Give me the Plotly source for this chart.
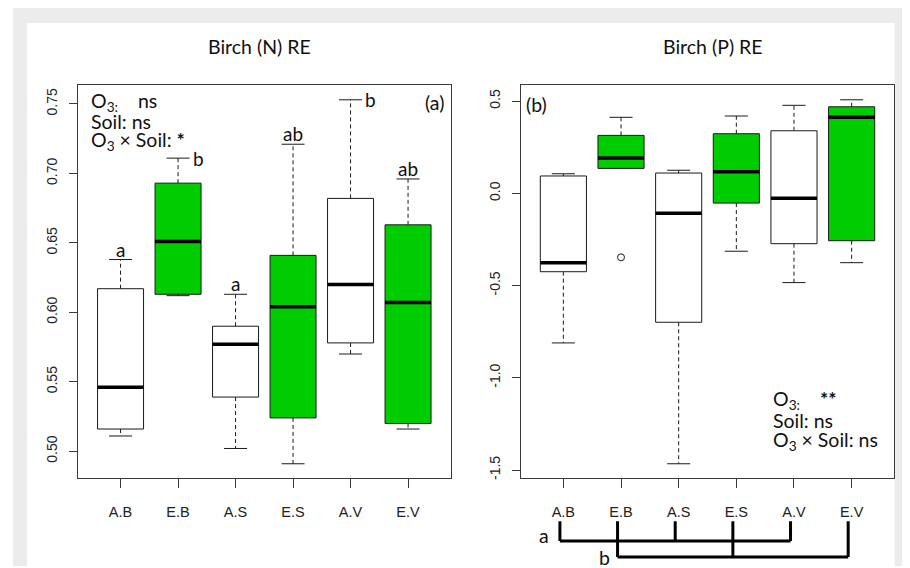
import plotly.graph_objects as go

# ---------------- data ----------------
categories = ["A.B", "E.B", "A.S", "E.S", "A.V", "E.V"]

# Panel (a): Birch (N) RE  (box-plot statistics)
n_lower = [0.511, 0.612, 0.502, 0.491, 0.570, 0.516]
n_q1 = [0.516, 0.613, 0.539, 0.524, 0.578, 0.520]
n_median = [0.546, 0.651, 0.577, 0.604, 0.620, 0.607]
n_q3 = [0.617, 0.693, 0.590, 0.641, 0.682, 0.663]
n_upper = [0.638, 0.711, 0.613, 0.721, 0.753, 0.696]
n_letters = ["a", "b", "a", "ab", "b", "ab"]
n_ticks = [0.50, 0.55, 0.60, 0.65, 0.70, 0.75]

# Panel (b): Birch (P) RE
p_lower = [-0.811, 0.135, -1.466, -0.314, -0.484, -0.376]
p_q1 = [-0.425, 0.135, -0.699, -0.053, -0.273, -0.257]
p_median = [-0.376, 0.191, -0.108, 0.117, -0.027, 0.412]
p_q3 = [0.094, 0.314, 0.110, 0.323, 0.339, 0.469]
p_upper = [0.106, 0.412, 0.125, 0.419, 0.477, 0.507]
p_outlier_cats = ["E.B"]
p_outlier_vals = [-0.347]
p_ticks = [-1.5, -1.0, -0.5, 0.0, 0.5]

group_a = ["A.B", "A.S", "A.V"]
group_b = ["E.B", "E.S", "E.V"]

# ---------------- style ----------------
GREEN = "#00CD00"
LINE = "#1a1a1a"
AXC = "#3a3a3a"
BOXW = 0.4      # half box width (boxwex 0.8)
CAPW = 0.2      # half staple width
TXT_FONT = "Lato"
TICK_FONT = "Liberation Sans"
W, H = 902, 560
OX, OY = 8, 8   # page offset of the figure (body margin)


def fx(px):
    return (px - OX) / W


def fy(py):
    return (H - (py - OY)) / H


fig = go.Figure()


def pos(cat):
    return categories.index(cat) + 1


def add_panel(xa, ya, lower, q1, med, q3, upper):
    for i, cat in enumerate(categories):
        p = pos(cat)
        fill = GREEN if cat.startswith("E") else "white"
        fig.add_trace(go.Scatter(
            x=[p, p, None, p, p], y=[q3[i], upper[i], None, q1[i], lower[i]],
            mode="lines", line=dict(color=LINE, width=1, dash="4px,3px"),
            xaxis=xa, yaxis=ya, hoverinfo="skip", showlegend=False))
        fig.add_trace(go.Scatter(
            x=[p - CAPW, p + CAPW, None, p - CAPW, p + CAPW],
            y=[upper[i], upper[i], None, lower[i], lower[i]],
            mode="lines", line=dict(color=LINE, width=1),
            xaxis=xa, yaxis=ya, hoverinfo="skip", showlegend=False))
        fig.add_trace(go.Scatter(
            x=[p - BOXW, p + BOXW, p + BOXW, p - BOXW, p - BOXW],
            y=[q1[i], q1[i], q3[i], q3[i], q1[i]],
            mode="lines", fill="toself", fillcolor=fill,
            line=dict(color=LINE, width=1),
            xaxis=xa, yaxis=ya, hoverinfo="skip", showlegend=False))
        fig.add_trace(go.Scatter(
            x=[p - BOXW, p + BOXW], y=[med[i], med[i]],
            mode="lines", line=dict(color="black", width=3.5),
            xaxis=xa, yaxis=ya, hoverinfo="skip", showlegend=False))


add_panel("x", "y", n_lower, n_q1, n_median, n_q3, n_upper)
add_panel("x2", "y2", p_lower, p_q1, p_median, p_q3, p_upper)

fig.add_trace(go.Scatter(
    x=[pos(c) for c in p_outlier_cats], y=p_outlier_vals, mode="markers",
    marker=dict(symbol="circle-open", size=7, color=LINE, line=dict(width=1)),
    xaxis="x2", yaxis="y2", hoverinfo="skip", showlegend=False))


def r_range(lo_list, hi_list, extra=()):
    lo = min(list(lo_list) + list(extra))
    hi = max(list(hi_list) + list(extra))
    d = (hi - lo) * 0.04
    return [lo - d, hi + d]


n_range = r_range(n_lower, n_upper)
p_range = r_range(p_lower, p_upper, p_outlier_vals)

ydom = [fy(480), fy(85.5)]
xdom1 = [fx(78), fx(450.6)]
xdom2 = [fx(520.7), fx(894.3)]

xcommon = dict(range=[0.26, 6.74], tickvals=[pos(c) for c in categories],
               ticktext=categories, showgrid=False, zeroline=False,
               showline=True, mirror=True, linecolor=AXC, linewidth=1,
               ticks="outside", ticklen=9, tickcolor=AXC, tickwidth=1,
               ticklabelstandoff=11,
               tickfont=dict(family=TICK_FONT, size=14.5, color="#222"))
ycommon = dict(showgrid=False, zeroline=False, showline=True, mirror=True,
               linecolor=AXC, linewidth=1, ticks="outside", ticklen=8,
               tickcolor=AXC, tickwidth=1, tickangle=-90,
               ticklabelstandoff=6,
               tickfont=dict(family=TICK_FONT, size=14, color="#222"), domain=ydom)

fig.update_layout(
    width=W, height=H, margin=dict(l=0, r=0, t=0, b=0),
    paper_bgcolor="white", plot_bgcolor="rgba(0,0,0,0)",
    xaxis=dict(domain=xdom1, anchor="y", **xcommon),
    xaxis2=dict(domain=xdom2, anchor="y2", **xcommon),
    yaxis=dict(anchor="x", range=n_range, tickvals=n_ticks,
               ticktext=[f"{v:.2f}" for v in n_ticks], **ycommon),
    yaxis2=dict(anchor="x2", range=p_range, tickvals=p_ticks,
                ticktext=[f"{v:.1f}" for v in p_ticks], **ycommon),
)

# background frame (grey border, white panel)
fig.add_shape(type="rect", xref="paper", yref="paper", x0=fx(13), x1=1.0,
              y0=0, y1=fy(8), fillcolor="#ececec", line_width=0, layer="below")
fig.add_shape(type="rect", xref="paper", yref="paper", x0=fx(27), x1=fx(894.5),
              y0=0, y1=fy(23), fillcolor="white", line_width=0, layer="below")

tfont = dict(family=TXT_FONT, size=19.5, color="#111")
lfont = dict(family=TXT_FONT, size=19, color="#111")


def ann(text, x, y, xref, yref, xanchor="center", yanchor="middle", font=tfont, **kw):
    fig.add_annotation(text=text, x=x, y=y, xref=xref, yref=yref, xanchor=xanchor,
                       yanchor=yanchor, showarrow=False, font=font, **kw)


# titles
ann("Birch (N) RE", fx(260), fy(47), "paper", "paper")
ann("Birch (P) RE", fx(713), fy(47), "paper", "paper")

# significance letters panel (a)
right_side = {"b"}
for i, cat in enumerate(categories):
    lab = n_letters[i]
    if lab in right_side:
        ann(lab, pos(cat) + CAPW, n_upper[i], "x", "y", xanchor="left", xshift=1, font=lfont)
    else:
        ann(lab, pos(cat), n_upper[i], "x", "y", yanchor="bottom", yshift=-3, font=lfont)

NB = "&nbsp;" * 4
# stats text panel (a)
ann(f"O<sub>3:</sub>{NB}ns", 0.029, 0.958, "x domain", "y domain", xanchor="left")
ann("Soil: ns", 0.029, 0.908, "x domain", "y domain", xanchor="left")
ann("O<sub>3</sub> × Soil: <b>*</b>", 0.029, 0.858, "x domain", "y domain", xanchor="left")
ann("(a)", 0.958, 0.956, "x domain", "y domain")

# stats text panel (b)
ann(f"O<sub>3:</sub>{NB}<b>**</b>", 0.669, 0.198, "x2 domain", "y2 domain", xanchor="left")
ann("Soil: ns", 0.669, 0.146, "x2 domain", "y2 domain", xanchor="left")
ann("O<sub>3</sub> × Soil: ns", 0.669, 0.095, "x2 domain", "y2 domain", xanchor="left")
ann("(b)", 0.0436, 0.951, "x2 domain", "y2 domain")

# grouping brackets under panel (b)
y_top = fy(523)
y_a = fy(543)
y_b = fy(559)
BR = dict(color="black", width=3)
OFF = -0.06
for grp, yl in ((group_a, y_a), (group_b, y_b)):
    xs = [pos(c) + OFF for c in grp]
    for xv in xs:
        fig.add_shape(type="line", xref="x2", yref="paper", x0=xv, x1=xv,
                      y0=y_top, y1=yl, line=BR)
    fig.add_shape(type="line", xref="x2", yref="paper", x0=min(xs), x1=max(xs),
                  y0=yl, y1=yl, line=BR)

ann("a", pos(group_a[0]) - 0.33, fy(537), "x2", "paper")
ann("b", pos(group_b[0]) - 0.28, fy(559), "x2", "paper")

fig.write_html("out.html")
